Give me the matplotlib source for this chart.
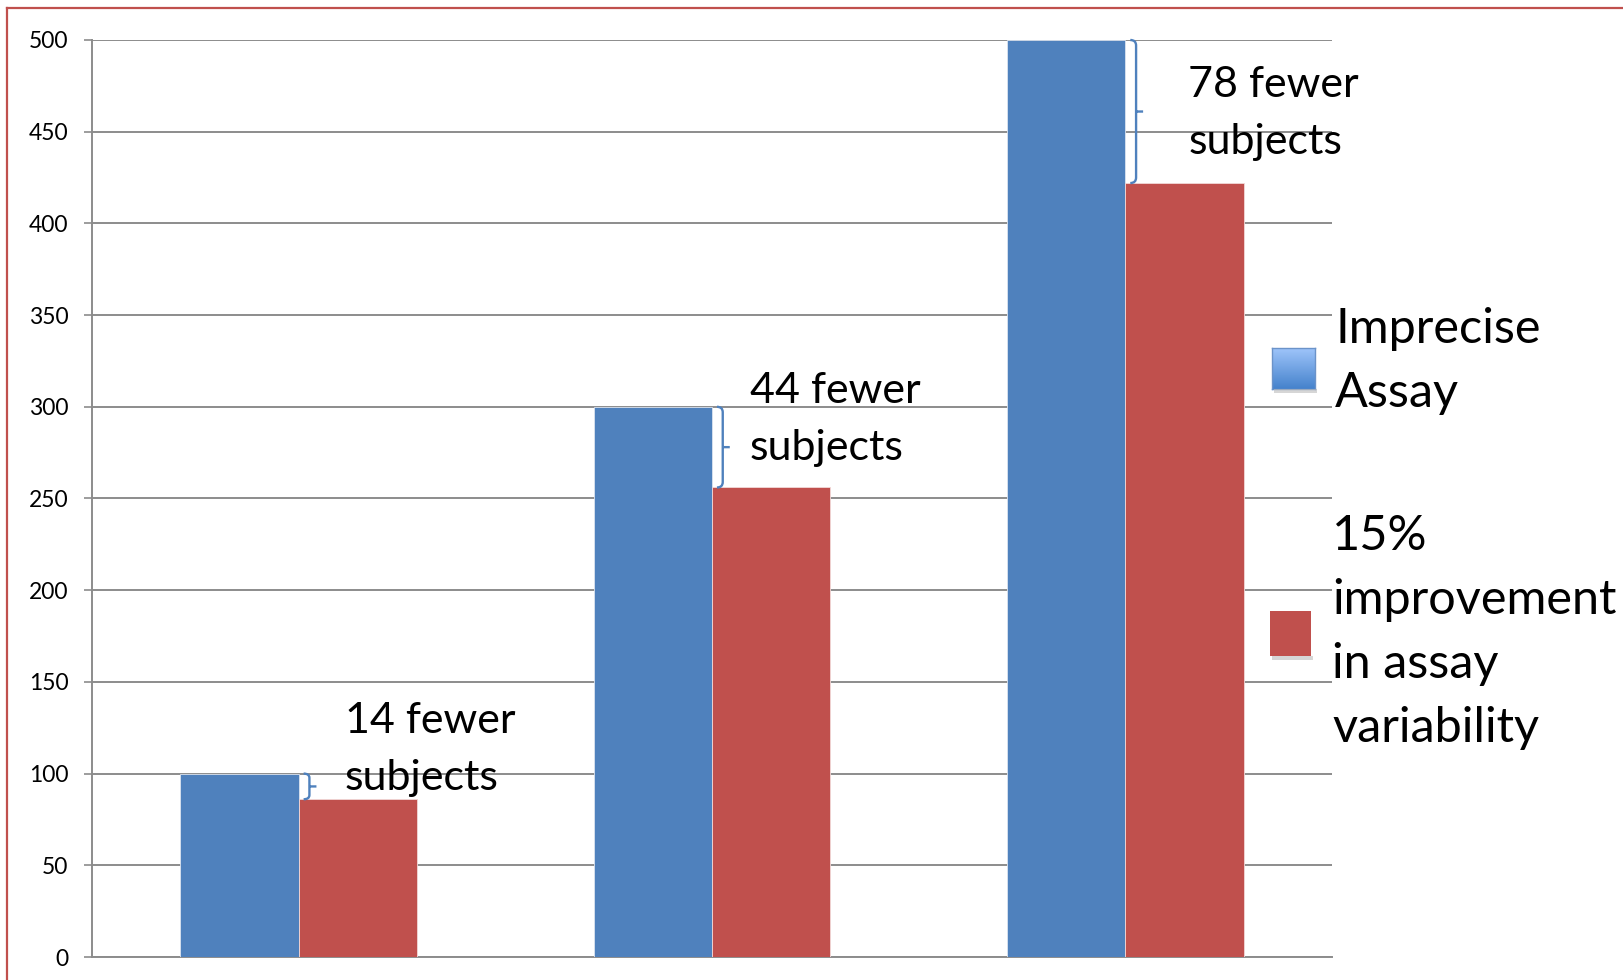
"""Sample size needed: imprecise assay vs. 15% better assay variability."""
import matplotlib.pyplot as plt
import numpy as np
from matplotlib.lines import Line2D
from matplotlib.path import Path
from matplotlib.patches import PathPatch, Rectangle
from matplotlib.transforms import offset_copy

plt.rcParams["font.family"] = ["Lato", "DejaVu Sans"]

groups = ["A", "B", "C"]
imprecise = [100, 300, 500]
improved = [86, 256, 422]
series_names = [["Imprecise", "Assay"], ["15%", "improvement", "in assay", "variability"]]
y_ticks = [0, 50, 100, 150, 200, 250, 300, 350, 400, 450, 500]

BLUE = "#4f81bd"
RED = "#c0504d"
GRID = "#8c8c8c"

W, H = 1623, 980
fig = plt.figure(figsize=(W / 100, H / 100), dpi=100, facecolor="white")
ax = fig.add_axes([92 / W, 1 - 957 / H, (1332 - 92) / W, (957 - 40) / H])

x = np.arange(len(groups))
bw = 0.286
ax.bar(x - bw / 2, imprecise, bw, color=BLUE, edgecolor="#dbe4f0", linewidth=0.6, zorder=3)
ax.bar(x + bw / 2, improved, bw, color=RED, edgecolor="#f2d9d8", linewidth=0.6, zorder=3)

ax.set_xlim(-0.5, len(groups) - 0.5)
ax.set_ylim(0, 500)
ax.set_yticks(y_ticks)
ax.set_xticks([])
ax.yaxis.grid(True, color=GRID, linewidth=1.4, zorder=0)
ax.set_axisbelow(True)
for side in ["top", "right"]:
    ax.spines[side].set_visible(False)
for side in ["left", "bottom"]:
    ax.spines[side].set_color(GRID)
    ax.spines[side].set_linewidth(1.4)
ax.tick_params(axis="y", length=6, width=1.2, color=GRID, pad=11, labelsize=16.5)

# curly braces marking the drop from blue to red bar tops
hook, dx, tip = 0.012, 0.026, 0.043
for xi, hi, lo in zip(x, imprecise, improved):
    mid = (hi + lo) / 2
    r = min(3, (hi - lo) / 6)
    verts = [
        (xi + hook, hi), (xi + dx, hi), (xi + dx, hi - r),
        (xi + dx, lo + r),
        (xi + dx, lo), (xi + hook, lo),
        (xi + dx, mid), (xi + tip, mid),
    ]
    codes = [
        Path.MOVETO, Path.CURVE3, Path.CURVE3,
        Path.LINETO,
        Path.CURVE3, Path.CURVE3,
        Path.MOVETO, Path.LINETO,
    ]
    ax.add_patch(PathPatch(Path(verts, codes), fill=False, edgecolor=BLUE,
                           linewidth=1.7, zorder=4, clip_on=False))


def stacked_text(trans, x0, y0, lines, step, size=31):
    # one text per line so every baseline sits exactly `step` pixels apart
    for i, line in enumerate(lines):
        t = offset_copy(trans, fig=fig, x=0, y=-step * i, units="dots")
        fig.text(x0, y0, line, transform=t, fontsize=size, ha="left",
                 va="baseline", zorder=5)


note_xy = [(0.112, 122), (1.092, 302), (2.152, 469)]
for (nx, ny), hi, lo in zip(note_xy, imprecise, improved):
    stacked_text(ax.transData, nx, ny, [f"{hi - lo} fewer", "subjects"], 57)

# legend drawn by hand: gradient swatch + plain swatch with wrapped labels
sw = fig.add_axes([1272 / W, 1 - 389 / H, 43 / W, 41 / H])
grad = np.linspace(0, 1, 64)[:, None, None]
top_c = np.array([0.62, 0.77, 0.98])
bot_c = np.array([0.27, 0.51, 0.80])
sw.imshow(top_c * (1 - grad) + bot_c * grad, aspect="auto", extent=[0, 1, 0, 1])
sw.set_xticks([])
sw.set_yticks([])
for s in sw.spines.values():
    s.set_color("#6b93c9")
    s.set_linewidth(1)

fig.patches.append(Rectangle((1274 / W, 1 - 393 / H), 43 / W, 4 / H, transform=fig.transFigure,
                             facecolor="#bbbbbb", edgecolor="none", alpha=0.6))
fig.patches.append(Rectangle((1270 / W, 1 - 656 / H), 41 / W, 45 / H, transform=fig.transFigure,
                             facecolor=RED, edgecolor="none"))
fig.patches.append(Rectangle((1272 / W, 1 - 660 / H), 41 / W, 4 / H, transform=fig.transFigure,
                             facecolor="#bbbbbb", edgecolor="none", alpha=0.6))

stacked_text(fig.transFigure, 1335 / W, 1 - 343 / H, series_names[0], 64, size=35)
stacked_text(fig.transFigure, 1332 / W, 1 - 550 / H, series_names[1], 64, size=35)

# frame border on the left and top
fig.add_artist(Line2D([7 / W, 7 / W], [0, 1 - 8 / H], color=RED, linewidth=1.6))
fig.add_artist(Line2D([7 / W, 1], [1 - 8 / H, 1 - 8 / H], color=RED, linewidth=1.6))

fig.savefig("out.png", dpi=100, facecolor="white")
